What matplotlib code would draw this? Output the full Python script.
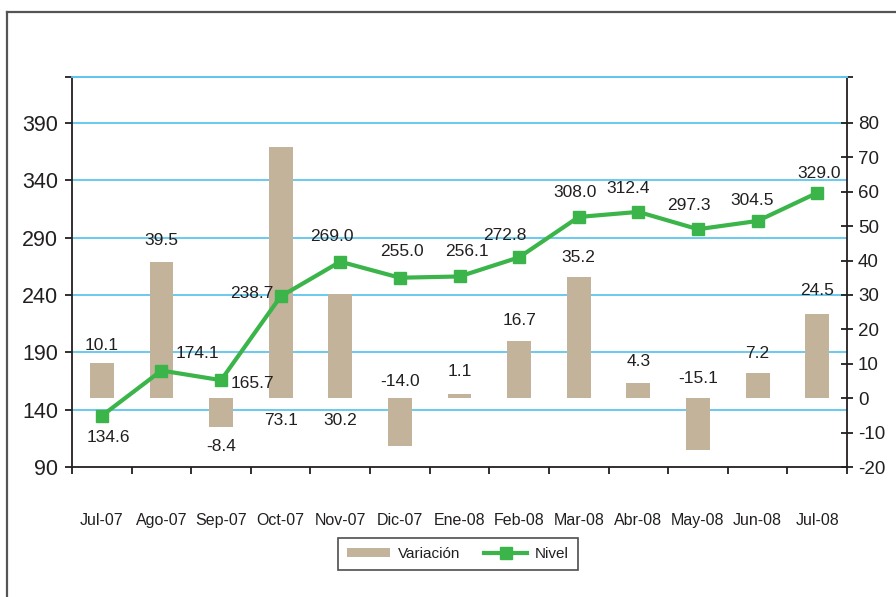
import numpy as np
import matplotlib.pyplot as plt
from matplotlib.lines import Line2D
from matplotlib.patches import Patch
from matplotlib.transforms import blended_transform_factory

plt.rcParams["font.family"] = ["Liberation Sans", "DejaVu Sans"]
TXT = "#231f20"
plt.rcParams["text.color"] = TXT
plt.rcParams["xtick.color"] = TXT
plt.rcParams["ytick.color"] = TXT

meses = ["Jul-07", "Ago-07", "Sep-07", "Oct-07", "Nov-07", "Dic-07", "Ene-08",
         "Feb-08", "Mar-08", "Abr-08", "May-08", "Jun-08", "Jul-08"]
nivel = [134.6, 174.1, 165.7, 238.7, 269.0, 255.0, 256.1, 272.8, 308.0,
         312.4, 297.3, 304.5, 329.0]
variacion = [10.1, 39.5, -8.4, 73.1, 30.2, -14.0, 1.1, 16.7, 35.2, 4.3,
             -15.1, 7.2, 24.5]

# label placement (pixels), hand-tuned like the original chart
nivel_off = [(7, -22), (36, 17), (31, -3), (-29, 3), (-8, 25), (2, 26), (7, 25),
             (-14, 22), (-4, 24), (-10, 23), (-9, 24), (-5, 20), (2, 19)]
var_dy = [18, 22, -19, -22, -22, 17, 23, 20, 20, 22, 20, 20, 23]
var_at_base = [False, False, False, True, True, True, False, False, False,
               False, True, False, False]

BAR = "#c4b39b"
GREEN = "#3bb54a"
GRID = "#5ec6ee"

x = np.arange(len(meses))

fig = plt.figure(figsize=(8.96, 5.97), dpi=100)
ax = fig.add_axes([72 / 896, 130 / 597, 775 / 896, 390 / 597])
ax2 = ax.twinx()
ax.set_zorder(2)
ax2.set_zorder(1)
ax.patch.set_visible(False)

# bars on the right scale
ax2.bar(x, variacion, width=0.4, color=BAR, zorder=2)
ax2.set_ylim(-20, 280 / 3)
ax2.set_yticks(list(range(-20, 81, 10)) + [280 / 3])
ax2.set_yticklabels([str(v) for v in range(-20, 81, 10)] + [""], fontsize=13.5)
ax2.tick_params(axis="y", direction="inout", length=8, width=1.3, pad=4)

# gridlines at left-scale ticks, drawn behind the bars
tr = blended_transform_factory(ax2.transAxes, ax.transData)
for g in range(140, 391, 50):
    ax2.plot([0, 1], [g, g], transform=tr, color=GRID, lw=1.3, zorder=1)

# line on the left scale
ax.plot(x, nivel, color=GREEN, lw=3, marker="s", markersize=9,
        markerfacecolor=GREEN, markeredgecolor=GREEN, zorder=3)
ax.set_ylim(90, 430)
ax.set_yticks(list(range(90, 391, 50)) + [430])
ax.set_yticklabels([str(v) for v in range(90, 391, 50)] + [""], fontsize=15.5)
ax.tick_params(axis="y", direction="out", length=5, width=1.3, pad=5)

ax.set_xlim(-0.5, len(meses) - 0.5)
ax.set_xticks(x)
ax.set_xticklabels(meses, fontsize=11.5)
ax.tick_params(axis="x", length=0, pad=33)
ax.set_xticks(np.arange(-0.5, len(meses)), minor=True)
ax.tick_params(axis="x", which="minor", direction="out", length=5, width=1.3)

for a in (ax, ax2):
    for s in a.spines.values():
        s.set_linewidth(1.3)
        s.set_color("#231f20")
    a.spines["top"].set_color(GRID)
ax.spines["right"].set_visible(False)
ax2.spines["left"].set_visible(False)
ax2.spines["bottom"].set_visible(False)

for i, v in enumerate(nivel):
    ax.annotate(f"{v:.1f}", (i, v), xytext=nivel_off[i], textcoords="offset pixels",
                ha="center", va="center", fontsize=12.5, zorder=4)

for i, v in enumerate(variacion):
    base = 0 if var_at_base[i] else v
    ax2.annotate(f"{v:.1f}", (i, base), xytext=(0, var_dy[i]), textcoords="offset pixels",
                 ha="center", va="center", fontsize=12.5)

handles = [Patch(facecolor=BAR, edgecolor="none"),
           Line2D([], [], color=GREEN, lw=3, marker="s", markersize=9)]
leg = fig.legend(handles, ["Variación", "Nivel"], loc="center",
                 bbox_to_anchor=(458 / 896, 1 - 554 / 597), ncol=2, fontsize=11,
                 frameon=True, fancybox=False, handlelength=2.8, handleheight=0.6,
                 columnspacing=1.6, borderpad=0.6, handletextpad=0.5)
leg.get_frame().set_edgecolor("#231f20")
leg.get_frame().set_linewidth(1.2)

# outer chart frame
fig.add_artist(Line2D([7 / 896, 7 / 896], [0, 1 - 12 / 597], color="#555555", lw=1.6))
fig.add_artist(Line2D([7 / 896, 1], [1 - 12 / 597, 1 - 12 / 597], color="#555555", lw=1.6))

fig.savefig("out.png", dpi=100)
